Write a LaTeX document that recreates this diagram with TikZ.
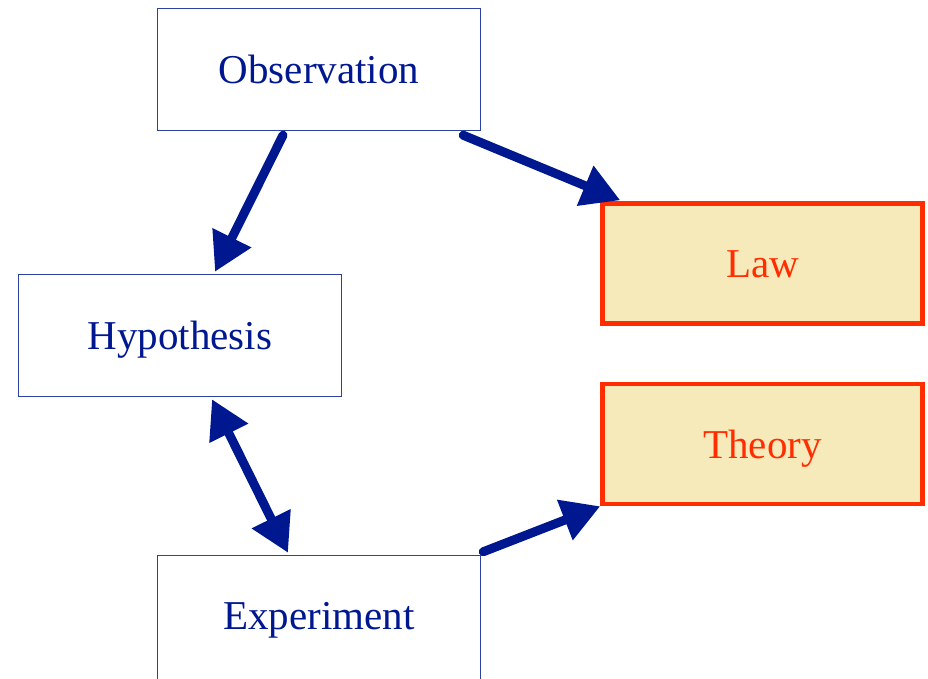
\documentclass[tikz,border=0pt]{standalone}
\usepackage{fontspec}
\setmainfont{Liberation Serif}
\usepackage{tikz}
\usetikzlibrary{arrows.meta}
\usetikzlibrary{positioning}
\definecolor{stepblue}{RGB}{0,24,143}
\definecolor{frameblue}{RGB}{45,65,165}
\definecolor{lawred}{RGB}{255,45,0}
\definecolor{lawfill}{RGB}{246,234,186}
\tikzset{
    box/.style={
        rectangle,
        draw=frameblue,
        line width=1.5pt,
        fill=white,
        minimum width=323pt,
        minimum height=122pt,
        text height=28pt,
        text depth=0pt,
        text=stepblue,
        font=\fontsize{41}{49}\selectfont
    },
    arrow/.style={
        -{Triangle[length=38pt,width=41pt]},
        line width=9pt,
        line cap=round,
        draw=stepblue
    }
}

\begin{document}
\begin{tikzpicture}[
    x=1pt, y=-1pt,
    result_box/.style={box, draw=lawred, line width=4.5pt, fill=lawfill, text=lawred, minimum width=320pt, minimum height=120pt},
    two_way/.style={arrow, {Triangle[length=38pt,width=41pt]}-{Triangle[length=38pt,width=41pt]}}
]
    \useasboundingbox (0,0) rectangle (928,678);

    % Steps
    \node (obs) [box] at (319,69.5) {Observation};
    \node (hyp) [box] at (180,335.5) {Hypothesis};
    \node (exp) [box, minimum height=130pt, text depth=11pt] at (319,620.5) {Experiment};

    % Results
    \node (law) [result_box] at (762.5,263.5) {Law};
    \node (theory) [result_box, below=56pt of law] {Theory};

    % Arrows
    \draw [arrow] ([xshift=-36pt,yshift=-4pt]obs.south) -- ([xshift=35pt,yshift=2pt]hyp.north);
    \draw [arrow] ([xshift=-18pt,yshift=-4pt]obs.south east) -- ([xshift=20pt,yshift=1pt]law.north west);
    \draw [two_way] ([xshift=32pt,yshift=-2pt]hyp.south) -- ([xshift=-31pt,yshift=2pt]exp.north);
    \draw [arrow] ([xshift=2pt,yshift=3pt]exp.north east) -- (theory.south west);

\end{tikzpicture}
\end{document}
